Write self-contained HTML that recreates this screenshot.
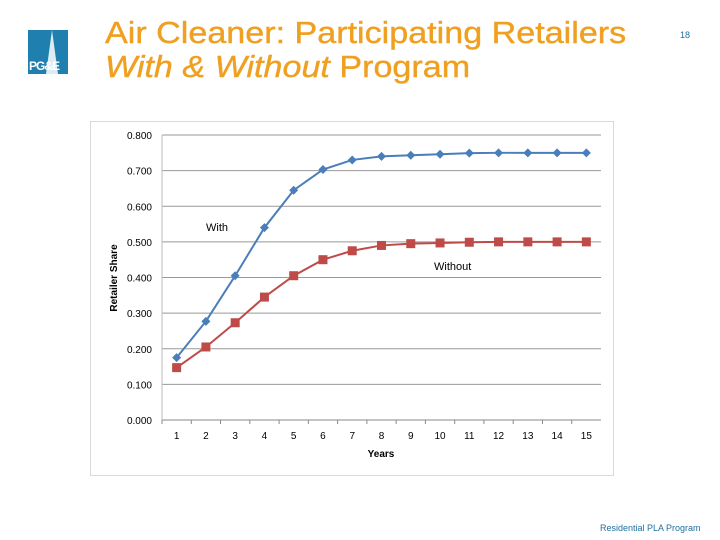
<!DOCTYPE html>
<html><head><meta charset="utf-8"><style>
body{margin:0;width:720px;height:540px;background:#fff;position:relative;overflow:hidden;font-family:"Liberation Sans",sans-serif}
.t{position:absolute;color:#f0a020;font-size:31px;left:105px;line-height:34px;transform:scaleX(1.1);transform-origin:left top;white-space:nowrap;-webkit-text-stroke:0.4px #f0a020}
</style></head><body>
<div style="position:absolute;left:28px;top:30px;width:40px;height:44px;background:#1f7fae;overflow:hidden">
<div style="position:absolute;left:18px;top:0;width:0;height:0;border-left:6px solid transparent;border-right:6px solid transparent;border-bottom:44px solid #fff;opacity:.85"></div>
<div style="position:absolute;left:1px;bottom:1px;color:#fff;font-weight:bold;font-size:12px;letter-spacing:-1px">PG&amp;E</div></div>
<div class="t" style="top:16px">Air Cleaner: Participating Retailers</div>
<div class="t" style="top:50px"><i>With &amp; Without</i> Program</div>
<div style="position:absolute;left:680px;top:30px;font-size:9px;color:#1f6f9e">18</div>
<div style="position:absolute;left:600px;top:523px;font-size:9px;color:#1f6f9e">Residential PLA Program</div>
<svg id="c" width="720" height="540" style="position:absolute;left:0;top:0" font-family="Liberation Sans, sans-serif"></svg>
<script>
const years=[1,2,3,4,5,6,7,8,9,10,11,12,13,14,15];
const withVals=[0.175,0.277,0.405,0.54,0.645,0.703,0.73,0.74,0.743,0.746,0.749,0.75,0.75,0.75,0.75];
const withoutVals=[0.147,0.205,0.273,0.345,0.405,0.45,0.475,0.49,0.495,0.497,0.499,0.5,0.5,0.5,0.5];
const yTicks=[0,0.1,0.2,0.3,0.4,0.5,0.6,0.7,0.8];
const svg=document.getElementById('c');const NS='http://www.w3.org/2000/svg';
function mk(t,a,p){const e=document.createElementNS(NS,t);for(const k in a)e.setAttribute(k,a[k]);(p||svg).appendChild(e);return e;}
const L=162,R=601,T=135,B=420;
const x=i=>L+(R-L)/years.length*(i+0.5);
const y=v=>B-(B-T)*v/0.8;
let f=mk('rect',{x:90.5,y:121.5,width:523,height:354,fill:'#fff',stroke:'#d9d9d9'});

yTicks.forEach(v=>{
 let g=mk('line',{x1:L,x2:R,y1:y(v),y2:y(v),stroke:v===0?'#888':'#999','stroke-width':1});
 
 let t=mk('text',{x:152,y:y(v)+4,'text-anchor':'end','font-size':10,fill:'#000'});t.textContent=v.toFixed(3);
 
});
mk('line',{x1:L,x2:L,y1:T,y2:B,stroke:'#bbb'});
years.forEach((yr,i)=>{
 mk('line',{x1:L+(R-L)/years.length*i,x2:L+(R-L)/years.length*i,y1:B,y2:B+4,stroke:'#888'});
 let t=mk('text',{x:x(i),y:439,'text-anchor':'middle','font-size':10});t.textContent=yr;
 
});
let xt=mk('text',{x:381,y:457,'text-anchor':'middle','font-size':10,'font-weight':'bold'});xt.textContent='Years';

let yt=mk('text',{x:0,y:0,'text-anchor':'middle','font-size':10,'font-weight':'bold',transform:'translate(117,278) rotate(-90)'});yt.textContent='Retailer Share';

function series(vals,col,name,sq){
 let p=mk('polyline',{points:vals.map((v,i)=>x(i)+','+y(v)).join(' '),fill:'none',stroke:col,'stroke-width':2});
 
 vals.forEach((v,i)=>{let m;
  if(sq)m=mk('rect',{x:x(i)-4.5,y:y(v)-4.5,width:9,height:9,fill:col});
  else m=mk('polygon',{points:`${x(i)},${y(v)-4.5} ${x(i)+4.5},${y(v)} ${x(i)},${y(v)+4.5} ${x(i)-4.5},${y(v)}`,fill:col});
  });
}
series(withVals,'#4a7ebb','with',false);
series(withoutVals,'#be4b48','without',true);
let a=mk('text',{x:206,y:231,'font-size':11});a.textContent='With';

let b=mk('text',{x:434,y:270,'font-size':11});b.textContent='Without';

</script>
</body></html>
